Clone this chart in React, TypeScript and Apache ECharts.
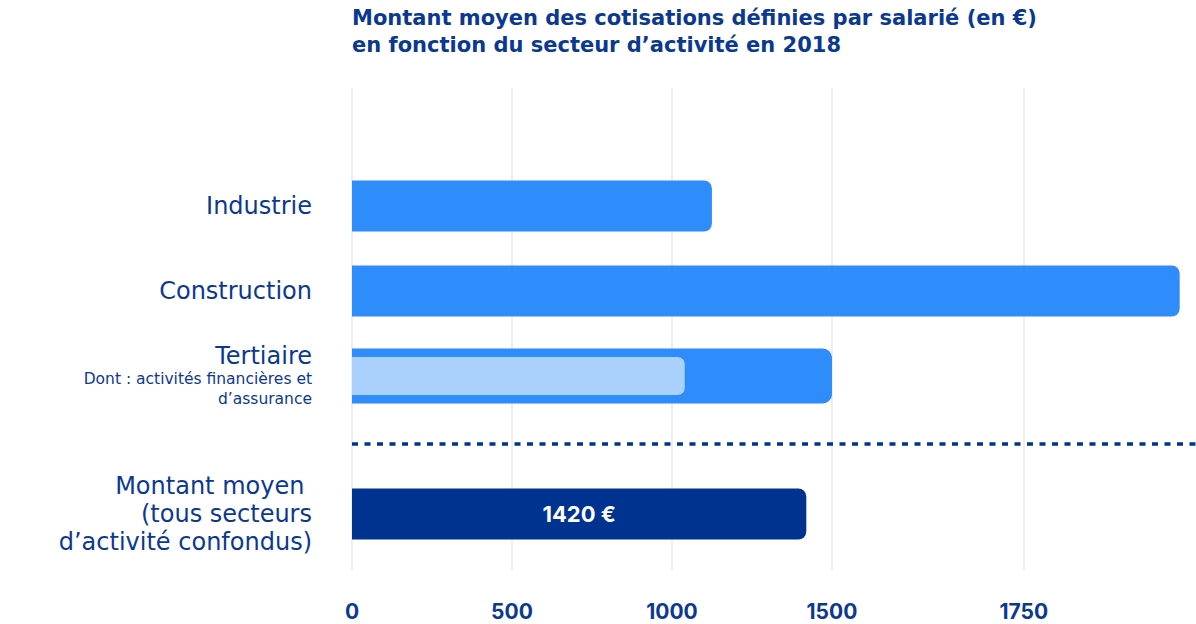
import * as echarts from 'echarts';
import React, { useEffect, useRef } from 'react';

const titleLines = [
  'Montant moyen des cotisations définies par salarié (en €)',
  'en fonction du secteur d’activité en 2018',
];

const categories = ['Industrie', 'Construction', 'Tertiaire'];
const sectorValues = [1125, 2587, 1500];
const subCategory = 'Tertiaire';
const subLabel = ['Dont : activités financières et', 'd’assurance'];
const subValues = [1040];

const averageCategory = ['Montant moyen \n(tous secteurs\nd’activité confondus)'];
const averageValues = [1420];

const tickValues = [0, 500, 1000, 1500, 2100];
const tickLabels = ['0', '500', '1000', '1500', '1750'];

const X_MAX = 2638;
const DARK = '#0b3990';
const BLUE = '#2e8cfb';
const LIGHT = '#aad0fc';
const NAVY = '#00338f';
const FONT = 'Inter';
const TEXT_FONT = 'DejaVu Sans';

const App: React.FC = () => {
  const chartRef = useRef<HTMLDivElement>(null);

  useEffect(() => {
    if (!chartRef.current) return;
    const chart = echarts.init(chartRef.current, null, { renderer: 'svg' });

    const hiddenX = (gridIndex: number) => ({
      type: 'value' as const,
      gridIndex,
      min: 0,
      max: X_MAX,
      show: false,
    });

    const subIndex = categories.indexOf(subCategory);

    const option: echarts.EChartsOption = {
      animation: false,
      textStyle: { fontFamily: FONT },
      title: {
        text: titleLines.join('\n'),
        left: 352,
        top: 4,
        padding: 0,
        textStyle: {
          fontFamily: TEXT_FONT,
          fontSize: 21,
          fontWeight: 'bold',
          lineHeight: 27,
          color: DARK,
        },
      },
      grid: [
        { left: 352, right: 0, top: 88, bottom: 54 },
        { left: 352, right: 0, top: 163.5, height: 255 },
        { left: 352, right: 0, top: 471.5, height: 85 },
      ],
      xAxis: [
        {
          type: 'value',
          gridIndex: 0,
          min: 0,
          max: X_MAX,
          axisLine: { show: false },
          axisTick: { show: false, customValues: tickValues },
          axisLabel: {
            customValues: tickValues,
            margin: 31,
            fontFamily: FONT,
            fontSize: 21,
            fontWeight: 'bold',
            color: DARK,
            formatter: (v: number) => tickLabels[tickValues.indexOf(v)] ?? '',
          },
          splitLine: {
            show: true,
            lineStyle: { color: '#eceef2', width: 2 },
          },
        },
        hiddenX(1),
        hiddenX(2),
      ],
      yAxis: [
        { type: 'category', gridIndex: 0, data: [''], show: false },
        {
          type: 'category',
          gridIndex: 1,
          data: categories,
          inverse: true,
          axisLine: { show: false },
          axisTick: { show: false },
          axisLabel: {
            interval: 0,
            margin: 40,
            align: 'right',
            formatter: (name: string) =>
              name === subCategory
                ? `{a|${name}}\n` + subLabel.map((s) => `{b|${s}}`).join('\n')
                : `{a|${name}}`,
            rich: {
              a: { fontFamily: TEXT_FONT, fontSize: 24, lineHeight: 26, color: DARK, align: 'right' },
              b: { fontFamily: TEXT_FONT, fontSize: 15.5, lineHeight: 20, color: DARK, align: 'right' },
            },
          },
        },
        { type: 'category', gridIndex: 1, data: categories, inverse: true, show: false },
        { type: 'category', gridIndex: 1, data: categories, inverse: true, show: false },
        {
          type: 'category',
          gridIndex: 2,
          data: averageCategory,
          axisLine: { show: false },
          axisTick: { show: false },
          axisLabel: {
            interval: 0,
            margin: 40,
            align: 'right',
            fontFamily: TEXT_FONT,
            fontSize: 24,
            lineHeight: 28,
            color: DARK,
          },
        },
      ],
      series: [
        {
          type: 'bar',
          xAxisIndex: 1,
          yAxisIndex: 1,
          data: sectorValues,
          barWidth: 51,
          itemStyle: { color: BLUE, borderRadius: [0, 8, 8, 0] },
        },
        {
          type: 'bar',
          xAxisIndex: 1,
          yAxisIndex: 2,
          data: sectorValues.map((v, i) => (i === subIndex ? v : '-')),
          barWidth: 55,
          itemStyle: { color: BLUE, borderRadius: [0, 9, 9, 0] },
        },
        {
          type: 'bar',
          xAxisIndex: 1,
          yAxisIndex: 3,
          data: categories.map((_, i) => (i === subIndex ? subValues[0] : '-')),
          barWidth: 38,
          itemStyle: { color: LIGHT, borderRadius: [0, 7, 7, 0] },
        },
        {
          type: 'bar',
          xAxisIndex: 2,
          yAxisIndex: 4,
          data: averageValues,
          barWidth: 51,
          itemStyle: { color: NAVY, borderRadius: [0, 8, 8, 0] },
          label: {
            show: true,
            position: 'inside',
            formatter: '{c} €',
            fontFamily: FONT,
            fontSize: 22,
            fontWeight: 'bold',
            color: '#ffffff',
          },
        },
      ],
      graphic: [
        {
          type: 'line',
          shape: { x1: 352, y1: 444, x2: 1196, y2: 444 },
          style: { stroke: NAVY, lineWidth: 3.5, lineDash: [6, 6.5] },
          z: 10,
        },
      ],
    };

    chart.setOption(option);
    return () => chart.dispose();
  }, []);

  return (
    <div
      ref={chartRef}
      style={{ position: 'absolute', top: 0, left: 0, width: 1196, height: 624 }}
    />
  );
};

export default App;
